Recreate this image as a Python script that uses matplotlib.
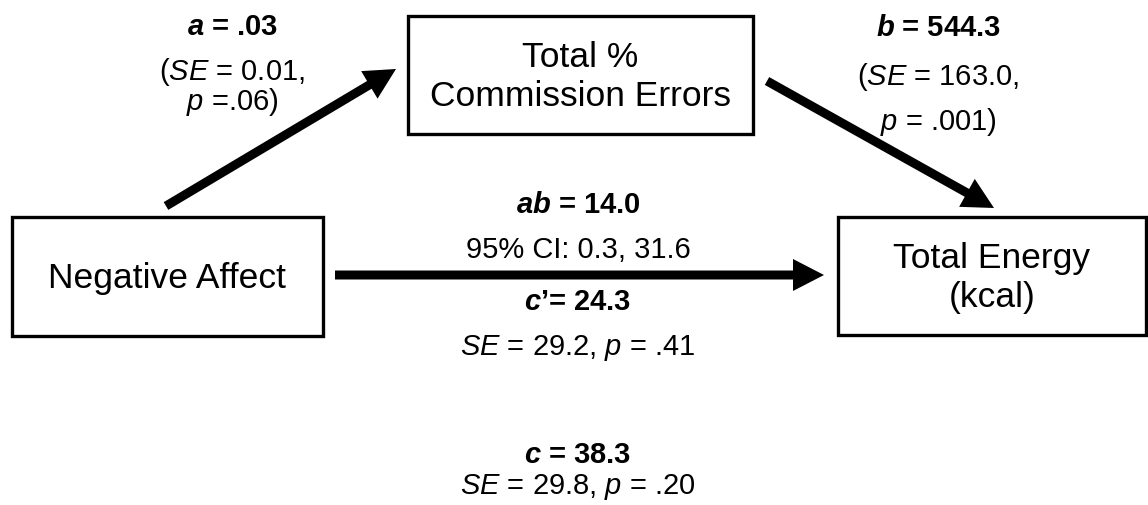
import matplotlib.pyplot as plt
from matplotlib.patches import Rectangle

plt.rcParams['font.family'] = ['Liberation Sans', 'DejaVu Sans']
plt.rcParams['mathtext.fontset'] = 'custom'
plt.rcParams['mathtext.rm'] = 'Liberation Sans'
plt.rcParams['mathtext.it'] = 'Liberation Sans:italic'
plt.rcParams['mathtext.bf'] = 'Liberation Sans:bold'
plt.rcParams['mathtext.bfit'] = 'Liberation Sans:italic:bold'

# variables in the mediation model
node_names = ['Negative Affect', 'Total %\nCommission Errors', 'Total Energy\n(kcal)']

# path estimates
path_a = ['.03', '0.01', '.06']          # coefficient, SE, p
path_b = ['544.3', '163.0', '.001']
indirect_ab = ['14.0', '0.3', '31.6']    # estimate, CI low, CI high
direct_c1 = ['24.3', '29.2', '.41']
total_c = ['38.3', '29.8', '.20']

fig = plt.figure(figsize=(11.48, 5.06), dpi=100)
ax = fig.add_axes([0, 0, 1, 1])
ax.set_xlim(0, 1148)
ax.set_ylim(506, 0)
ax.axis('off')

# boxes: (x0, y0, x1, y1) in pixels
boxes = [(12, 218, 323, 337), (408, 17, 753, 135), (838, 218, 1146, 336)]
for (x0, y0, x1, y1), name in zip(boxes, node_names):
    ax.add_patch(Rectangle((x0, y0), x1 - x0, y1 - y0, fill=False,
                           edgecolor='black', linewidth=2.4))
    ax.text((x0 + x1) / 2, (y0 + y1) / 2 + 1, name, ha='center', va='center',
            fontsize=25.5, linespacing=1.2)

def arrow(x0, y0, x1, y1):
    ax.arrow(x0, y0, x1 - x0, y1 - y0, width=9, head_width=32, head_length=31,
             length_includes_head=True, color='black', linewidth=0)

arrow(166, 207, 396, 70)
arrow(767, 82, 994, 209)
arrow(335, 276, 824, 276)

lab = 21
ax.text(232, 27, r'$\mathbfit{a}$ = ' + path_a[0], ha='center', va='center',
        fontsize=lab, fontweight='bold')
ax.text(232, 87, r'($\it{SE}$ = ' + path_a[1] + ',\n' + r'$\it{p}$ =' + path_a[2] + ')',
        ha='center', va='center', fontsize=lab, linespacing=0.95)

ax.text(938, 28, r'$\mathbfit{b}$ = ' + path_b[0], ha='center', va='center',
        fontsize=lab, fontweight='bold')
ax.text(938, 77, r'($\it{SE}$ = ' + path_b[1] + ',', ha='center', va='center', fontsize=lab)
ax.text(938, 122, r'$\it{p}$ = ' + path_b[2] + ')', ha='center', va='center', fontsize=lab)

ax.text(578, 205, r'$\mathbfit{ab}$ = ' + indirect_ab[0], ha='center', va='center',
        fontsize=lab, fontweight='bold')
ax.text(578, 250, '95% CI: ' + indirect_ab[1] + ', ' + indirect_ab[2],
        ha='center', va='center', fontsize=lab)
ax.text(578, 302, r'$\mathbfit{c}$’= ' + direct_c1[0], ha='center', va='center',
        fontsize=lab, fontweight='bold')
ax.text(578, 348, r'$\it{SE}$ = ' + direct_c1[1] + r', $\it{p}$ = ' + direct_c1[2],
        ha='center', va='center', fontsize=lab)

ax.text(578, 455, r'$\mathbfit{c}$ = ' + total_c[0], ha='center', va='center',
        fontsize=lab, fontweight='bold')
ax.text(578, 487, r'$\it{SE}$ = ' + total_c[1] + r', $\it{p}$ = ' + total_c[2],
        ha='center', va='center', fontsize=lab)

fig.savefig('out.png', dpi=100, facecolor='white')
